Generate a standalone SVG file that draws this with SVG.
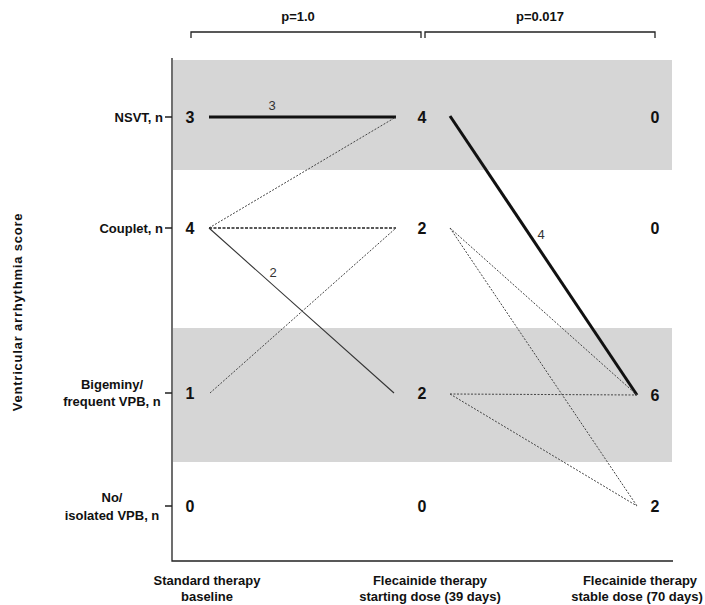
<svg xmlns="http://www.w3.org/2000/svg" width="705" height="605" viewBox="0 0 705 605">
<style>
text{font-family:"Liberation Sans",Arial,sans-serif;fill:#111}
.lab{font-size:13px;font-weight:bold;text-anchor:end}
.lab2{font-size:13px;font-weight:bold;text-anchor:middle}
.num{font-size:16px;font-weight:bold;text-anchor:middle}
.xl{font-size:13px;font-weight:bold;text-anchor:middle}
.ll{font-size:13px;text-anchor:middle;fill:#333}
.thick{stroke:#111;stroke-width:3;fill:none}
.thin{stroke:#333;stroke-width:1.1;fill:none}
.dot{stroke:#444;stroke-width:1;stroke-dasharray:2 1.5;fill:none}
.dash{stroke:#222;stroke-width:1.3;stroke-dasharray:3 1.5;fill:none}
.ax{stroke:#222;stroke-width:1.3;fill:none}
</style>
<rect width="705" height="605" fill="#fff"/>
<g id="bands">
<rect x="173" y="60" width="499" height="110" fill="#d6d6d6"/>
<rect x="173" y="328" width="499" height="134" fill="#d6d6d6"/>
</g>
<g id="brackets">
<path class="ax" d="M191,38V32H421V38M425,38V32H655V38" stroke-width="1"/>
<text class="xl" x="298" y="21">p=1.0</text>
<text class="xl" x="540" y="21">p=0.017</text>
</g>
<g id="axes">
<path class="ax" d="M172,58V561H673"/>
<path class="ax" d="M165,117H172M165,228H172M165,393H172M165,506H172" stroke-width="1"/>
<text x="22" y="312" font-size="13" font-weight="bold" letter-spacing="0.8" text-anchor="middle" transform="rotate(-90 22 312)">Ventricular arrhythmia score</text>
</g>
<g id="row-labels">
<text class="lab" x="163" y="122">NSVT, n</text>
<text class="lab" x="163" y="233">Couplet, n</text>
<text class="lab2" x="112" y="389">Bigeminy/</text>
<text class="lab2" x="112" y="406">frequent VPB, n</text>
<text class="lab2" x="112" y="502">No/</text>
<text class="lab2" x="112" y="520">isolated VPB, n</text>
</g>
<g id="connectors">
<line class="thick" x1="209" y1="117" x2="396" y2="117"/>
<line class="dot" x1="209" y1="228" x2="396" y2="117"/>
<line class="dash" x1="209" y1="228" x2="396" y2="228"/>
<line class="thin" x1="209" y1="228" x2="394" y2="393"/>
<line class="dot" x1="210" y1="393" x2="396" y2="228"/>
<line class="thick" x1="450" y1="116" x2="637" y2="395"/>
<line class="dot" x1="450" y1="228" x2="637" y2="395"/>
<line class="dot" x1="450" y1="228" x2="637" y2="506"/>
<line class="dot" x1="450" y1="394" x2="637" y2="395"/>
<line class="dot" x1="450" y1="394" x2="637" y2="506"/>
<text class="ll" x="272" y="110">3</text>
<text class="ll" x="273" y="277">2</text>
<text class="ll" x="541" y="239" fill="#555">4</text>
</g>
<g id="col-baseline">
<text class="num" x="190" y="123">3</text>
<text class="num" x="190" y="234">4</text>
<text class="num" x="190" y="399">1</text>
<text class="num" x="190" y="512">0</text>
</g>
<g id="col-start">
<text class="num" x="422" y="123">4</text>
<text class="num" x="422" y="234">2</text>
<text class="num" x="422" y="399">2</text>
<text class="num" x="422" y="512">0</text>
</g>
<g id="col-stable">
<text class="num" x="655" y="123">0</text>
<text class="num" x="655" y="234">0</text>
<text class="num" x="655" y="401">6</text>
<text class="num" x="655" y="512">2</text>
</g>
<g id="x-labels">
<text class="xl" x="207" y="585">Standard therapy</text>
<text class="xl" x="207" y="601">baseline</text>
<text class="xl" x="430" y="585">Flecainide therapy</text>
<text class="xl" x="430" y="601">starting dose (39 days)</text>
<text class="xl" x="640" y="585">Flecainide therapy</text>
<text class="xl" x="637" y="601">stable dose (70 days)</text>
</g>
</svg>
